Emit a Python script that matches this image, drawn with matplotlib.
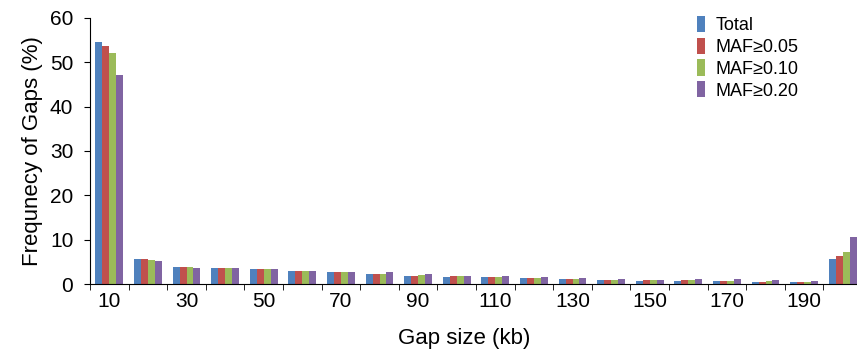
import numpy as np
import matplotlib.pyplot as plt

plt.rcParams['font.family'] = ['Liberation Sans', 'DejaVu Sans']

gap_sizes = [10, 20, 30, 40, 50, 60, 70, 80, 90, 100,
             110, 120, 130, 140, 150, 160, 170, 180, 190, 200]
total = [54.6, 5.6, 3.8, 3.7, 3.3, 3.0, 2.6, 2.3, 1.9, 1.65,
         1.5, 1.3, 1.1, 1.0, 0.75, 0.75, 0.6, 0.45, 0.4, 5.6]
maf05 = [53.6, 5.6, 3.8, 3.6, 3.3, 2.9, 2.6, 2.3, 1.9, 1.7,
         1.5, 1.35, 1.15, 1.0, 0.85, 0.85, 0.7, 0.5, 0.5, 6.4]
maf10 = [52.1, 5.5, 3.8, 3.6, 3.3, 2.9, 2.6, 2.3, 2.0, 1.7,
         1.5, 1.35, 1.15, 1.0, 0.85, 0.85, 0.7, 0.6, 0.45, 7.3]
maf20 = [47.2, 5.3, 3.7, 3.6, 3.3, 2.9, 2.7, 2.6, 2.2, 1.8,
         1.7, 1.5, 1.3, 1.2, 1.0, 1.2, 1.05, 0.8, 0.7, 10.5]
series_names = ["Total", "MAF≥0.05", "MAF≥0.10", "MAF≥0.20"]
colors = ["#4F81BD", "#C0504D", "#9BBB59", "#8064A2"]

fig = plt.figure(figsize=(8.57, 3.59), dpi=100)
ax = fig.add_axes([90 / 857, 75 / 359, 772 / 857, 266 / 359])

x = np.arange(len(gap_sizes))
w = 0.18
for i, (vals, name) in enumerate(zip([total, maf05, maf10, maf20], series_names)):
    ax.bar(x + (i - 1.5) * w, vals, width=w, color=colors[i], label=name, linewidth=0)

ax.set_xlim(-0.5, len(gap_sizes) - 0.5)
ax.set_ylim(0, 60)
ax.set_yticks(range(0, 61, 10))
ax.tick_params(axis='y', labelsize=15, direction='out', length=4, pad=8)

# group labels every other category, ticks between groups
ax.set_xticks(x[::2])
ax.set_xticklabels([str(g) for g in gap_sizes[::2]], fontsize=15)
ax.tick_params(axis='x', which='major', length=0, pad=6)
ax.set_xticks(np.arange(-0.5, len(gap_sizes), 1), minor=True)
ax.tick_params(axis='x', which='minor', length=4, direction='out')

ax.spines['top'].set_visible(False)
ax.spines['right'].set_visible(False)

ax.set_ylabel("Frequnecy of Gaps (%)", fontsize=16, labelpad=5)
ax.set_xlabel("Gap size (kb)", fontsize=16)
ax.xaxis.set_label_coords(0.485, -0.165)

ax.legend(loc='upper left', bbox_to_anchor=(0.765, 1.07), frameon=False, fontsize=13,
          handlelength=0.45, handleheight=1.0, handletextpad=0.6, labelspacing=0.2)

fig.savefig("out.png", dpi=100)
